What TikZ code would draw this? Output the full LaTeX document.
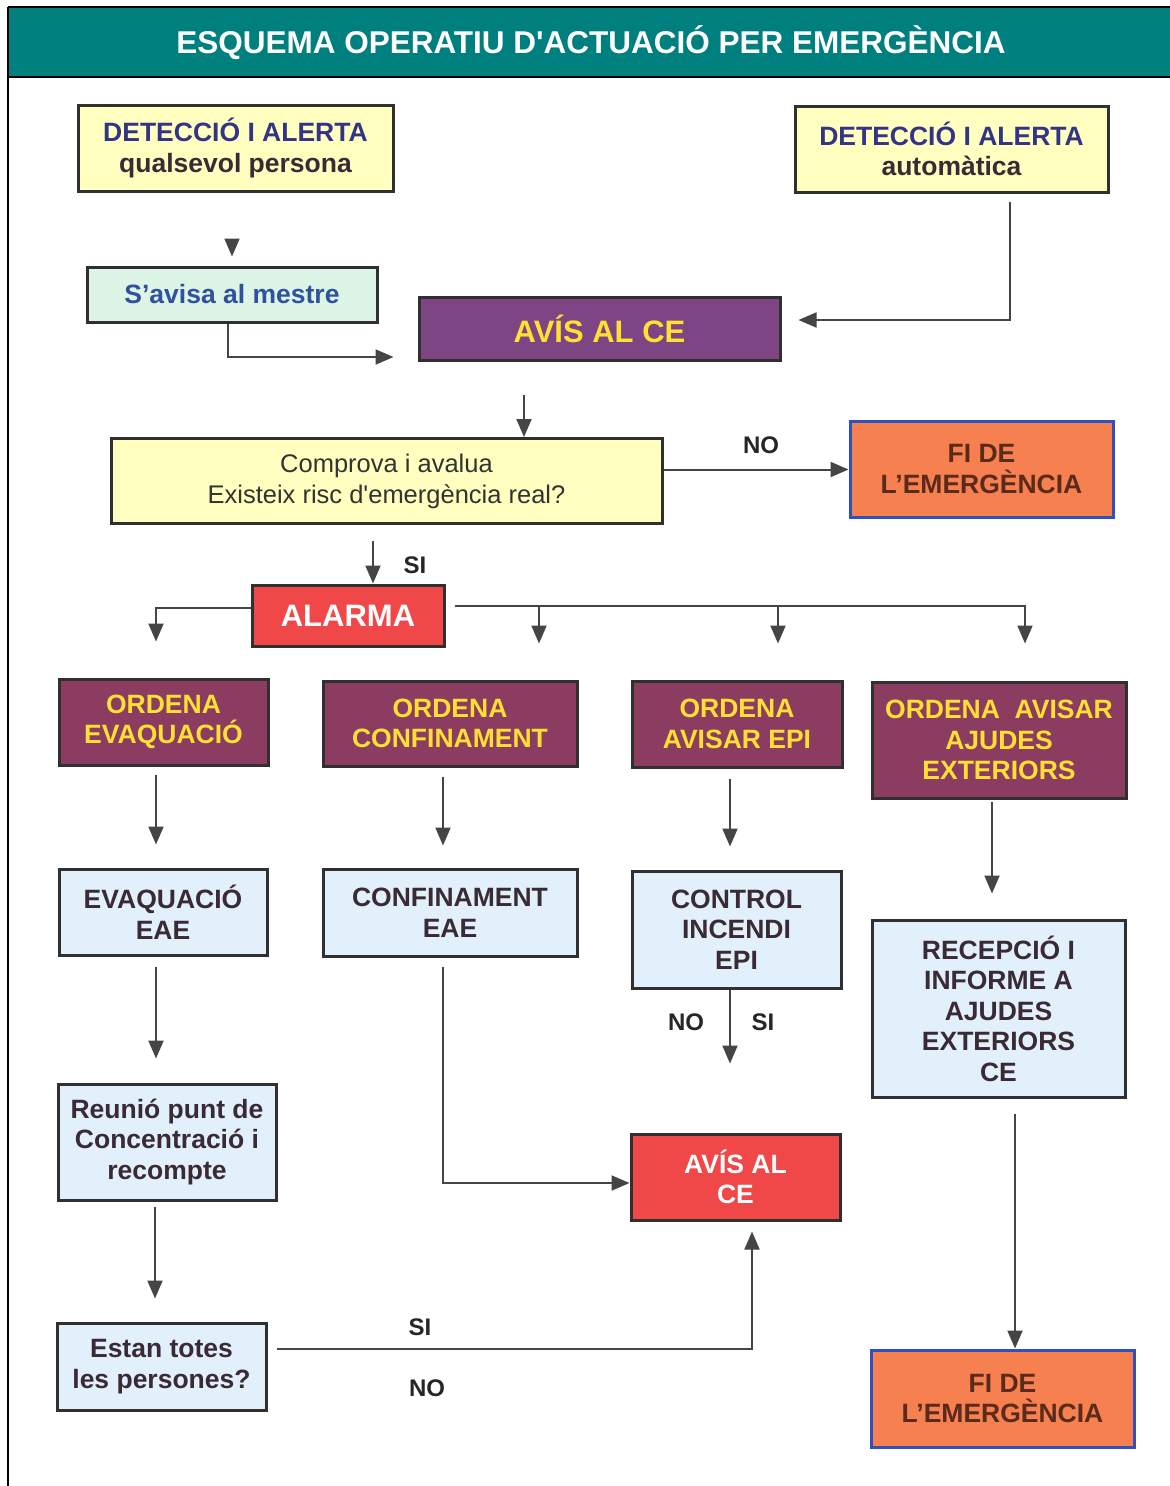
\documentclass[tikz,border=0pt]{standalone}
\usepackage{fontspec}
\setmainfont{Liberation Sans}
\usetikzlibrary{arrows.meta}
\definecolor{teal0}{HTML}{007F7F}
\definecolor{yel}{HTML}{FFFFC0}
\definecolor{grn}{HTML}{DCF5E6}
\definecolor{purp}{HTML}{7E4584}
\definecolor{maro}{HTML}{8C3C60}
\definecolor{lblu}{HTML}{E1F0FA}
\definecolor{redb}{HTML}{F04848}
\definecolor{orab}{HTML}{F68050}
\definecolor{bluebd}{HTML}{3050C0}
\definecolor{yeltxt}{HTML}{FFE033}
\definecolor{navy}{HTML}{333388}
\definecolor{bluetxt}{HTML}{3050A0}
\definecolor{darktxt}{HTML}{3A2A35}
\definecolor{browntxt}{HTML}{5A2A1A}
\definecolor{bd}{HTML}{303030}
\definecolor{arrc}{HTML}{454545}
\tikzset{
  boxbase/.style={draw=bd, line width=3pt, align=center, inner sep=0pt,
    font=\fontsize{26.5}{30.5}\selectfont\bfseries},
  yelbox/.style={boxbase, fill=yel},
  grnbox/.style={boxbase, fill=grn, text=bluetxt},
  purbox/.style={boxbase, fill=purp, text=yeltxt, font=\fontsize{31}{36}\selectfont\bfseries},
  marbox/.style={boxbase, fill=maro, text=yeltxt},
  blubox/.style={boxbase, fill=lblu, text=darktxt},
  redbox/.style={boxbase, fill=redb, text=white},
  orabox/.style={boxbase, fill=orab, draw=bluebd, text=browntxt},
  arr/.style={draw=arrc, line width=2pt, -{Triangle[length=18pt,width=15pt]}},
  lbl/.style={font=\fontsize{24}{28}\selectfont\bfseries, text=black!85, inner sep=0pt}
}
\begin{document}
\begin{tikzpicture}[x=1pt,y=-1pt]
\useasboundingbox[fill=white] (0,0) rectangle (1170,1486);
% header
\fill[teal0] (8,8) rectangle (1170,77);
\draw[black, line width=2pt] (8,7) -- (1170,7);
\draw[black, line width=2pt] (8,77) -- (1170,77);
\draw[black, line width=1.5pt] (8,7) -- (8,1486);
\node[text=white, font=\fontsize{31.5}{36}\selectfont\bfseries] (title) at (591,43) {ESQUEMA OPERATIU D\textquotesingle ACTUACIÓ PER EMERGÈNCIA};

% boxes
\node[yelbox, minimum width=315pt, minimum height=86pt] (det1) at (235.5,148)
  {\textcolor{navy}{DETECCIÓ I ALERTA}\\\textcolor{darktxt}{qualsevol persona}};
\node[yelbox, minimum width=313pt, minimum height=86pt] (det2) at (951.5,149)
  {\textcolor{navy}{DETECCIÓ I ALERTA}\\\textcolor{darktxt}{automàtica}};
\node[grnbox, minimum width=290pt, minimum height=55pt] (mestre) at (232,294.5) {S'avisa al mestre};
\node[purbox, minimum width=361pt, minimum height=63pt] (avisce) at (599.5,328.5) {AVÍS AL CE};
\node[yelbox, minimum width=551pt, minimum height=85pt, text=black!80,
  font=\fontsize{25.5}{31}\selectfont] (comprova) at (386.5,481)
  {Comprova i avalua\\Existeix risc d\textquotesingle emergència real?};
\node[orabox, minimum width=263pt, minimum height=96pt] (fi1) at (981.5,469) {FI DE\\L'EMERGÈNCIA};
\node[redbox, minimum width=192pt, minimum height=61pt, font=\fontsize{31}{36}\selectfont\bfseries] (alarma) at (348,615.5) {ALARMA};
\node[marbox, minimum width=209pt, minimum height=86pt] (ord1) at (163.5,722) {\raisebox{-3pt}{\parbox{200pt}{\centering ORDENA\\EVAQUACIÓ}}};
\node[marbox, minimum width=254pt, minimum height=85pt] (ord2) at (450,723.5) {ORDENA\\CONFINAMENT};
\node[marbox, minimum width=210pt, minimum height=86pt] (ord3) at (737,724) {ORDENA\\AVISAR EPI};
\node[marbox, minimum width=254pt, minimum height=116pt] (ord4) at (999,740) {ORDENA\ \ AVISAR\\AJUDES\\EXTERIORS};
\node[blubox, minimum width=208pt, minimum height=86pt] (evac) at (163,912) {EVAQUACIÓ\\EAE};
\node[blubox, minimum width=254pt, minimum height=87pt] (conf) at (450,912.5) {CONFINAMENT\\EAE};
\node[blubox, minimum width=209pt, minimum height=117pt] (control) at (736.5,929.5) {CONTROL\\INCENDI\\EPI};
\node[blubox, minimum width=253pt, minimum height=177pt] (recep) at (998.5,1008.5) {RECEPCIÓ I\\INFORME A\\AJUDES\\EXTERIORS\\CE};
\node[blubox, minimum width=218pt, minimum height=116pt] (reunio) at (167,1142) {Reunió punt de\\Concentració i\\recompte};
\node[blubox, minimum width=209pt, minimum height=87pt] (estan) at (161.5,1366.5) {Estan totes\\les persones?};
\node[redbox, minimum width=209pt, minimum height=86pt] (avisce2) at (735.5,1177) {AVÍS AL\\CE};
\node[orabox, minimum width=263pt, minimum height=97pt] (fi2) at (1002.5,1398.5) {FI DE\\L'EMERGÈNCIA};

% connectors
\draw[arr, shorten <=46pt, shorten >=9pt] (mestre.north |- det1.south) -- (mestre.north);
\draw[arr, shorten >=24pt] ([xshift=-4pt]mestre.south) |- ([yshift=-28.5pt]avisce.west);
\draw[arr, shorten <=8pt, shorten >=17pt] ([xshift=58.5pt]det2.south) |- ([yshift=8.5pt]avisce.east);
\coordinate (c0) at ([xshift=-75.5pt]avisce.south);
\draw[arr, shorten <=33pt] (c0) -- (c0 |- comprova.north);
\coordinate (c1) at ([yshift=11.5pt]comprova.east);
\draw[arr] (c1) -- (c1 -| fi1.west);
\node[lbl] (lno1) at (761,445) {NO};
\coordinate (c2) at ([xshift=25pt]alarma.north);
\draw[arr, shorten <=16pt] (c2 |- comprova.south) -- (c2);
\node[lbl] (lsi1) at (415,565) {SI};
\draw[arr, shorten >=36pt] ([yshift=7.5pt]alarma.west) -| ([xshift=-7.5pt]ord1.north);
\coordinate (busR) at ([yshift=9.5pt]alarma.east);
\draw[arr, shorten <=9pt, shorten >=37pt] (busR) -| ([xshift=26pt]ord4.north);
\coordinate (c3) at ([xshift=89pt]ord2.north);
\draw[arr, shorten >=36pt] (c3 |- busR) -- (c3);
\coordinate (c4) at ([xshift=41pt]ord3.north);
\draw[arr, shorten >=36pt] (c4 |- busR) -- (c4);
\coordinate (c5) at ([xshift=-7.5pt]ord1.south);
\draw[arr, shorten <=8pt, shorten >=23pt] (c5) -- (c5 |- evac.north);
\coordinate (c6) at ([xshift=-7pt]ord2.south);
\draw[arr, shorten <=9pt, shorten >=22pt] (c6) -- (c6 |- conf.north);
\coordinate (c7) at ([xshift=-7pt]ord3.south);
\draw[arr, shorten <=10pt, shorten >=23pt] (c7) -- (c7 |- control.north);
\coordinate (c8) at ([xshift=-7pt]ord4.south);
\draw[arr, shorten <=2pt, shorten >=25pt] (c8) -- (c8 |- recep.north);
\coordinate (c9) at ([xshift=-7pt]evac.south);
\draw[arr, shorten <=10pt, shorten >=24pt] (c9) -- (c9 |- reunio.north);
\draw[arr, shorten <=9pt] ([xshift=-7pt]conf.south) |- ([yshift=-6pt]avisce2.west);
\coordinate (ctrlend) at ([xshift=-6.5pt,yshift=-74pt]control.south);
\draw[arr] ([xshift=-6.5pt]control.south) -- (ctrlend);
\node[lbl] (lno2) at (686,1022) {NO};
\node[lbl] (lsi2) at (763,1022) {SI};
\coordinate (c10) at ([xshift=-12pt]reunio.south);
\draw[arr, shorten <=5pt, shorten >=23pt] (c10) -- (c10 |- estan.north);
\draw[arr, shorten <=9pt, shorten >=10pt] ([yshift=17.5pt]estan.east) -| ([xshift=16.5pt]avisce2.south);
\node[lbl] (lsi3) at (420,1327) {SI};
\node[lbl] (lno3) at (427,1388) {NO};
\coordinate (c11) at ([xshift=16.5pt]recep.south);
\draw[arr, shorten <=15pt] (c11) -- (c11 |- fi2.north);
\end{tikzpicture}
\end{document}
